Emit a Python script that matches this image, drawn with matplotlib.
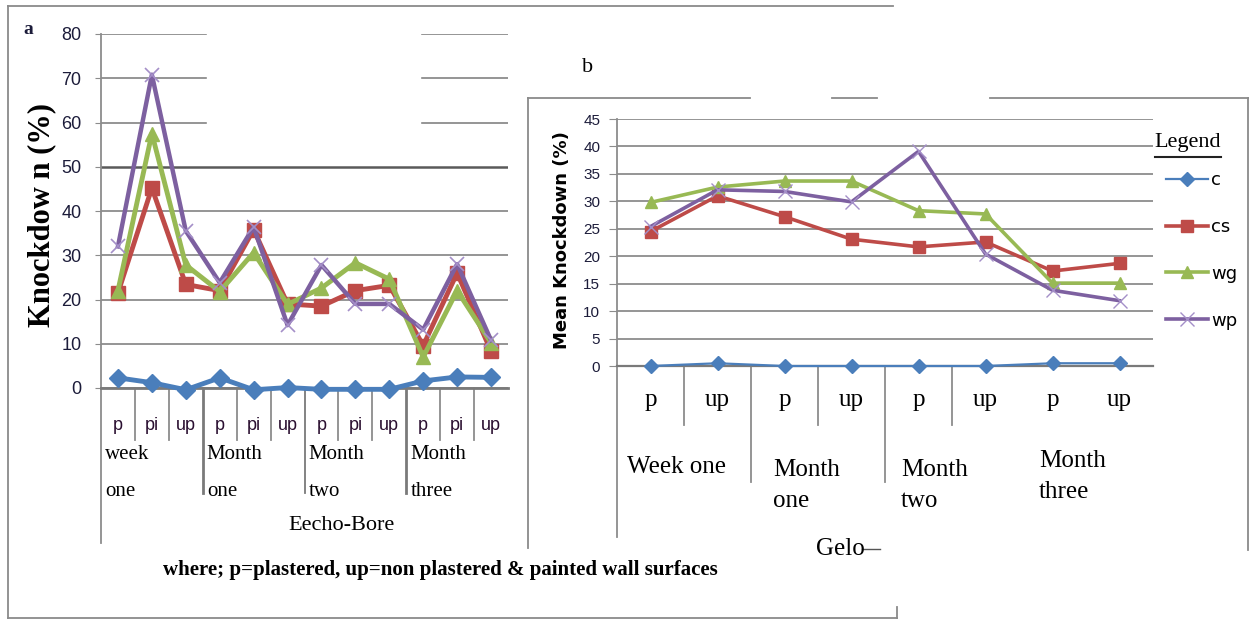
"""
Knockdown (%) per wall surface and time after spraying:
(a) Eecho-Bore, (b) Gelo.
"""
import matplotlib
matplotlib.use('Agg')
import matplotlib.pyplot as plt
from matplotlib.lines import Line2D
from matplotlib.patches import Rectangle
from matplotlib.transforms import blended_transform_factory

# ---- data, panel a (Eecho-Bore) ----
a_sub = ['p', 'pi', 'up'] * 4
a_groups = ['week\none', 'Month\none', 'Month\ntwo', 'Month\nthree']
a_c = [2.3, 1.2, -0.4, 2.3, -0.4, 0.1, -0.3, -0.3, -0.3, 1.6, 2.5, 2.4]
a_cs = [21.5, 45.2, 23.4, 22.0, 35.8, 19.0, 18.5, 22.0, 23.2, 9.6, 26.0, 8.3]
a_wg = [22.0, 57.5, 27.8, 21.8, 30.6, 18.9, 22.6, 28.3, 24.6, 7.0, 22.0, 10.2]
a_wp = [32.0, 70.8, 35.5, 23.8, 36.4, 14.2, 27.8, 19.0, 19.0, 13.2, 28.0, 10.8]

# ---- data, panel b (Gelo) ----
b_sub = ['p', 'up'] * 4
b_groups = ['Week one', 'Month\none', 'Month\ntwo', 'Month\nthree']
b_c = [0.0, 0.5, 0.0, 0.0, 0.0, 0.0, 0.5, 0.5]
b_cs = [24.5, 31.0, 27.2, 23.1, 21.7, 22.6, 17.3, 18.7]
b_wg = [29.8, 32.6, 33.7, 33.7, 28.3, 27.7, 15.1, 15.1]
b_wp = [25.4, 32.1, 31.8, 29.9, 39.1, 20.4, 13.8, 11.9]

names = ['c', 'cs', 'wg', 'wp']
colors = ['#4a7ebb', '#be4b48', '#98b954', '#7d60a0']
markers = ['D', 's', '^', 'x']

W, H = 1249, 619
GRID = '#8c8c8c'
SERIF = ['Liberation Serif', 'DejaVu Serif']
NARROW = ['Liberation Sans Narrow', 'Liberation Sans', 'DejaVu Sans']


def fx(px):
    return px / W


def fy(py):
    return 1 - py / H


def axes_px(left, top, right, bottom):
    return [fx(left), fy(bottom), (right - left) / W, (bottom - top) / H]


def fig_line(fig, xs, ys, **kw):
    kw.setdefault('color', '#8a8a8a')
    kw.setdefault('lw', 1.3)
    fig.add_artist(Line2D([fx(x) for x in xs], [fy(y) for y in ys], **kw))


fig = plt.figure(figsize=(W / 100., H / 100.), dpi=100)

# ================= panel a =================
a_top, a_bot = 34, 388
axa = fig.add_axes(axes_px(101, a_top, 508, a_bot))
xa = list(range(len(a_sub)))
series_a = [a_c, a_cs, a_wg, a_wp]
for i, ys in enumerate(series_a):
    if names[i] == 'c':
        axa.plot(xa, ys, color=colors[i], lw=3.5, marker='D', ms=9,
                 clip_on=False, zorder=3)
    elif names[i] == 'wp':
        axa.plot(xa, ys, color=colors[i], lw=3.2, marker='x', ms=10,
                 mew=1.2, mec='#a48fc8', clip_on=False, zorder=3)
    else:
        axa.plot(xa, ys, color=colors[i], lw=3.5, marker=markers[i], ms=10,
                 clip_on=False, zorder=3)
axa.set_xlim(-0.5, len(a_sub) - 0.5)
axa.set_ylim(0, 80)
axa.set_yticks(range(0, 81, 10))
axa.set_xticks([])
axa.set_axisbelow(True)
axa.yaxis.grid(True, color=GRID, lw=1.3)
axa.get_ygridlines()[5].set_color('#5a5a5a')
axa.get_ygridlines()[5].set_linewidth(1.8)
for s in ['top', 'right']:
    axa.spines[s].set_visible(False)
axa.spines['left'].set_color(GRID)
axa.spines['left'].set_linewidth(1.3)
axa.spines['bottom'].set_color('#7a7a7a')
axa.spines['bottom'].set_linewidth(2)
axa.tick_params(axis='y', length=4, color=GRID, pad=10, labelsize=13,
                labelcolor='#1c1c3a')
for lab in axa.get_yticklabels():
    lab.set_family(NARROW)
axa.set_facecolor('none')
# erased part of the top gridlines
axa.add_patch(Rectangle((2.63, 55), 6.27, 27, color='white', zorder=1,
                        clip_on=False))

ta = blended_transform_factory(axa.transData, axa.transAxes)


def ya(py):
    return (a_bot - py) / float(a_bot - a_top)


axa.plot([-0.5, -0.5], [0, ya(543)], transform=ta, clip_on=False,
         color=GRID, lw=1.3)
for k in range(len(a_sub) - 1):
    xb = k + 0.5
    if (k + 1) % 3 == 0:
        axa.plot([xb, xb], [0, ya(493)], transform=ta, clip_on=False,
                 color='#7a7a7a', lw=2.0 if k != 5 else 1.3)
    else:
        axa.plot([xb, xb], [0, ya(440)], transform=ta, clip_on=False,
                 color=GRID, lw=1.3)
for k, lab in enumerate(a_sub):
    axa.text(k, ya(425), lab, transform=ta, ha='center', va='center',
             fontsize=13, family=NARROW, color='#2a0f30')
for g, lab in enumerate(a_groups):
    axa.text(3 * g - 0.5 + 0.12, ya(445), lab, transform=ta,
             ha='left', va='top', fontsize=15, family=SERIF,
             linespacing=2.3)
axa.text(6.6, ya(525), 'Eecho-Bore', transform=ta, ha='center',
         va='center', fontsize=16, family=SERIF)

fig.text(fx(42), fy(215), 'Knockdow n (%)', rotation=90, ha='center',
         va='center', fontsize=22, fontweight='bold', family=SERIF)
fig.text(fx(28), fy(30), 'a', ha='center', va='center', fontsize=14,
         fontweight='bold', family=SERIF, color='#1c1c3a')
fig.text(fx(440), fy(570),
         'where; p=plastered, up=non plastered & painted wall surfaces',
         ha='center', va='center', fontsize=15, fontweight='bold',
         family=SERIF)

# box around panel a
fig_line(fig, [8, 893], [6, 6])
fig_line(fig, [8, 8], [6, 618])
fig_line(fig, [8, 897], [618, 618])
fig_line(fig, [897, 897], [607, 618])

# ================= panel b =================
b_top, b_bot = 119, 366
# box around panel b (partly erased on top)
for x0, x1 in [(528, 750), (832, 877), (990, 1249)]:
    fig_line(fig, [x0, x1], [98, 98])
fig_line(fig, [528, 528], [98, 548])
fig_line(fig, [1248, 1248], [98, 550])

axb = fig.add_axes(axes_px(617, b_top, 1153, b_bot))
xb_ = list(range(len(b_sub)))
series_b = [b_c, b_cs, b_wg, b_wp]
handles = []
for i, ys in enumerate(series_b):
    if names[i] == 'c':
        h, = axb.plot(xb_, ys, color=colors[i], lw=1.6, marker='D', ms=7,
                      clip_on=False, zorder=3)
    elif names[i] == 'wp':
        h, = axb.plot(xb_, ys, color=colors[i], lw=2.6, marker='x', ms=10,
                      mew=1.0, mec='#a48fc8', clip_on=False, zorder=3)
    else:
        h, = axb.plot(xb_, ys, color=colors[i], lw=2.6, marker=markers[i],
                      ms=9, clip_on=False, zorder=3)
    handles.append(h)
axb.set_xlim(-0.5, len(b_sub) - 0.5)
axb.set_ylim(0, 45)
axb.set_yticks(range(0, 46, 5))
axb.set_xticks([])
axb.set_axisbelow(True)
axb.yaxis.grid(True, color=GRID, lw=1.3)
for s in ['top', 'right']:
    axb.spines[s].set_visible(False)
axb.spines['left'].set_color(GRID)
axb.spines['left'].set_linewidth(1.3)
axb.spines['bottom'].set_color('#7a7a7a')
axb.spines['bottom'].set_linewidth(1.6)
axb.tick_params(axis='y', length=6, color=GRID, pad=6, labelsize=11,
                labelcolor='#1c1c3a')
for lab in axb.get_yticklabels():
    lab.set_family(NARROW)
axb.set_facecolor('none')

tb = blended_transform_factory(axb.transData, axb.transAxes)


def yb(py):
    return (b_bot - py) / float(b_bot - b_top)


axb.plot([-0.5, -0.5], [0, yb(537)], transform=tb, clip_on=False,
         color=GRID, lw=1.3)
for k in range(5):
    xs = k + 0.5
    bottom = 482 if k % 2 else 425
    axb.plot([xs, xs], [0, yb(bottom)], transform=tb, clip_on=False,
             color=GRID, lw=1.3)
for k, lab in enumerate(b_sub):
    axb.text(k, yb(400), lab, transform=tb, ha='center', va='center',
             fontsize=18, family=SERIF)
b_group_x = [-0.35, 1.83, 3.74, 5.8]
b_group_y = [456, 459, 459, 450]
for g, lab in enumerate(b_groups):
    axb.text(b_group_x[g], yb(b_group_y[g]), lab, transform=tb, ha='left',
             va='top', fontsize=18, family=SERIF, linespacing=1.55)

fig.text(fx(840), fy(549), 'Gelo', ha='center', va='center', fontsize=18,
         family=SERIF)
fig_line(fig, [862, 880], [549, 549], color='#555555', lw=1.0)
fig.text(fx(562), fy(240), 'Mean Knockdown (%)', rotation=90, ha='center',
         va='center', fontsize=13, fontweight='bold')
fig.text(fx(588), fy(68), 'b', ha='center', va='center', fontsize=16,
         family=SERIF)

# legend
fig.text(fx(1188), fy(143), 'Legend', ha='center', va='center',
         fontsize=16, family=SERIF)
fig_line(fig, [1155, 1221], [157, 157], color='#222222', lw=1.5)
fig.legend(handles, names, loc='upper left',
           bbox_to_anchor=(fx(1166), fy(171)), frameon=False,
           fontsize=13, labelspacing=1.6, handlelength=2.3,
           handletextpad=0.2, borderpad=0, borderaxespad=0)

fig.savefig('out.png', dpi=100)
